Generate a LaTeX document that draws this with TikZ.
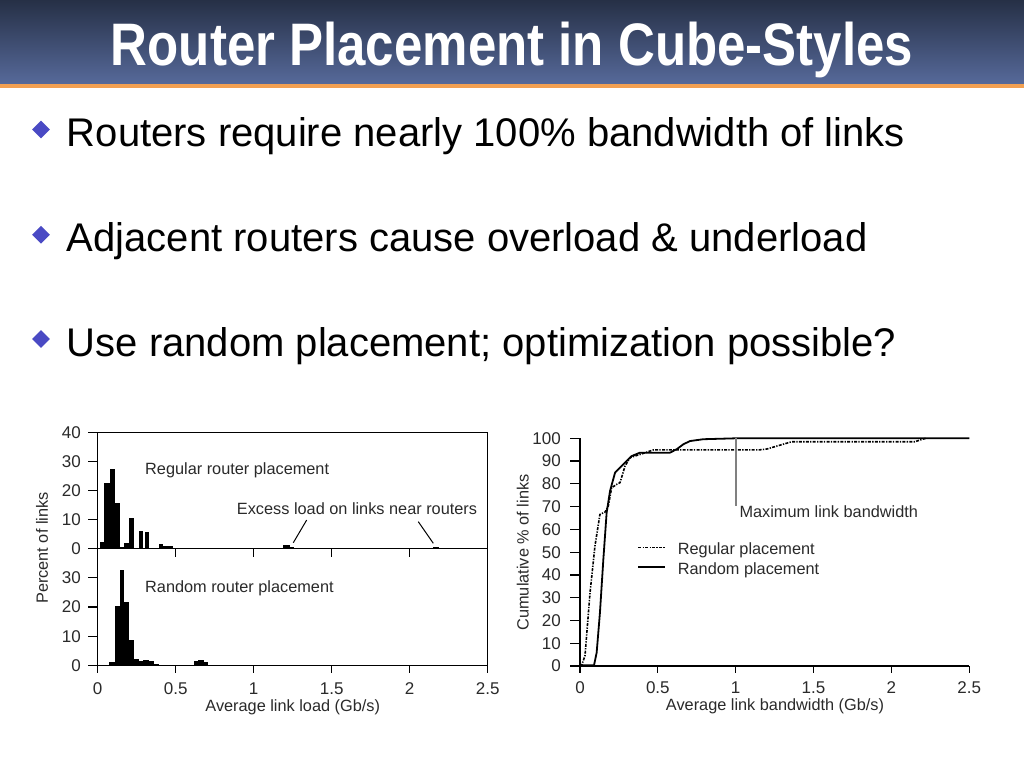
\documentclass[tikz,border=0pt]{standalone}
\usepackage{fontspec}
\setmainfont{Liberation Sans}
\usetikzlibrary{shapes.geometric}
\definecolor{titletop}{HTML}{263046}
\definecolor{titlebot}{HTML}{56699A}
\definecolor{orangeline}{HTML}{F2A052}
\definecolor{bulletblue}{HTML}{4A4AC4}
\definecolor{charttext}{HTML}{2A2A2A}
\definecolor{maxgray}{HTML}{808080}
\begin{document}
\begin{tikzpicture}[x=1pt,y=-1pt,
 bullettext/.style={anchor=base west, inner sep=0, font=\fontsize{40}{48}\selectfont},
 bulletmark/.style={diamond, fill=bulletblue, minimum width=18pt, minimum height=18pt, inner sep=0},
 ticklab/.style={font=\fontsize{17}{20}\selectfont, text=charttext, inner sep=0},
 chartlab/.style={font=\fontsize{16.3}{19}\selectfont, text=charttext, inner sep=0},
 axisline/.style={line width=1.2pt, black},
 bar/.style={fill=black, draw=none},
 regline/.style={line width=1.6pt, dash pattern=on 3pt off 1.3pt on 1.3pt off 1.3pt, line join=round},
 randline/.style={line width=1.8pt, line join=round},
]
\useasboundingbox (0,0) rectangle (1024,768);
\fill[white] (0,0) rectangle (1024,768);
% title bar
\shade[top color=titletop, bottom color=titlebot] (0,0) rectangle (1024,83.5);
\fill[orangeline] (0,83.5) rectangle (1024,87.5);
\node[anchor=base, inner sep=0, text=white, font=\fontsize{60}{70}\selectfont\bfseries] (title) at (512,65) {\scalebox{0.85}[1]{Router Placement in Cube-Styles}};
% bullets
\node[bulletmark] (d1) at (41,129.5) {};
\node[bulletmark] (d2) at (41,234.7) {};
\node[bulletmark] (d3) at (41,339) {};
\node[bullettext] (b1) at (66.7,146.7) {Routers require nearly 100\% bandwidth of links};
\node[bullettext] (b2) at (66.7,251.7) {Adjacent routers cause overload \& underload};
\node[bullettext] (b3) at (66.7,356.7) {Use random placement; optimization possible?};

% ================= left chart =================
% bars upper
\begin{scope}[shift={(97.7,548.5)}, xscale=156, yscale=-2.9]
\foreach \a/\b/\h in {0.015/0.04/2.3, 0.04/0.08/22.7, 0.08/0.11/27.5, 0.11/0.14/15.8, 0.14/0.17/0.5, 0.17/0.2/2, 0.2/0.23/10.6, 0.265/0.29/6.1, 0.3/0.33/5.8, 0.39/0.42/1.6, 0.42/0.48/0.9, 1.19/1.23/1.1, 1.23/1.26/0.4, 2.15/2.19/0.4}
  \fill[bar] (\a,0) rectangle (\b,\h);
\end{scope}
% bars lower
\begin{scope}[shift={(97.7,665.7)}, xscale=156, yscale=-2.94]
\foreach \a/\b/\h in {0.075/0.11/1.1, 0.11/0.14/20.4, 0.14/0.17/32.5, 0.17/0.2/21.5, 0.2/0.23/8.7, 0.23/0.265/2.3, 0.265/0.29/1.7, 0.29/0.33/2, 0.33/0.36/1.5, 0.36/0.39/0.5, 0.62/0.645/1.7, 0.645/0.68/2, 0.68/0.71/1.2}
  \fill[bar] (\a,0) rectangle (\b,\h);
\end{scope}
% frame
\draw[axisline] (97.7,432.5) rectangle (487.7,665.7);
\draw[axisline] (97.7,548.5) -- (487.7,548.5);
% y ticks upper
\foreach \v [count=\i] in {0,10,20,30,40} {
  \pgfmathsetmacro\yy{548.5-2.9*\v}
  \draw[axisline] (88,\yy) -- (97.7,\yy);
  \node[ticklab, anchor=east] (lyu\i) at (81,\yy) {\v};
}
% y ticks lower
\foreach \v [count=\i] in {0,10,20,30} {
  \pgfmathsetmacro\yy{665.7-2.94*\v}
  \draw[axisline] (88,\yy) -- (97.7,\yy);
  \node[ticklab, anchor=east] (lyl\i) at (81,\yy) {\v};
}
% x ticks
\foreach \v [count=\i] in {0,0.5,1,1.5,2,2.5} {
  \pgfmathsetmacro\xx{97.7+156*\v}
  \draw[axisline] (\xx,665.7) -- (\xx,673);
  \node[ticklab] (lx\i) at (\xx,689) {\v};
}
\foreach \v in {0.5,1,1.5,2} {
  \pgfmathsetmacro\xx{97.7+156*\v}
  \draw[axisline] (\xx,548.5) -- (\xx,557);
}
\node[chartlab] (lxlab) at (292.7,707) {Average link load (Gb/s)};
\node[chartlab, rotate=90] (lylab) at (42,548) {Percent of links};
\node[chartlab, anchor=west] (regtxt) at (145,470.7) {Regular router placement};
\node[chartlab, anchor=west] (randtxt) at (145,588.3) {Random router placement};
\node[chartlab] (excess) at (357,509) {Excess load on links near routers};
\coordinate (ex1) at (293.3,542.7);
\coordinate (ex2) at (433.3,543.3);
\draw[line width=1pt, black] (306.7,520) -- (ex1);
\draw[line width=1pt, black] (418.3,521.7) -- (ex2);

% ================= right chart =================
\begin{scope}[shift={(580,666)}, xscale=155.7, yscale=-2.277]
\draw[randline] (0,0.3) -- (0.09,0.3) -- (0.107,5.9) -- (0.128,23.4) -- (0.15,46.9) -- (0.171,67.3) -- (0.193,76.9) -- (0.225,84.9) -- (0.278,88.6) -- (0.332,92.2) -- (0.385,93.7) -- (0.578,93.7) -- (0.621,95.2) -- (0.664,97.4) -- (0.707,98.8) -- (0.792,99.6) -- (1,100) -- (2.5,100);
\draw[regline] (0,0.3) -- (0.01,0.3) -- (0.032,4.4) -- (0.064,31.9) -- (0.096,52.7) -- (0.128,66.6) -- (0.161,67.6) -- (0.182,70.3) -- (0.203,78.3) -- (0.236,79.8) -- (0.257,80.5) -- (0.289,87.8) -- (0.321,91.5) -- (0.407,93.4) -- (0.471,94.9) -- (1.15,94.9) -- (1.2,95.3) -- (1.36,98.5) -- (2.15,98.5) -- (2.22,100);
\end{scope}
\draw[axisline] (580,438.3) -- (580,666) -- (969.3,666);
\foreach \v [count=\i] in {0,10,20,30,40,50,60,70,80,90,100} {
  \pgfmathsetmacro\yy{666-2.277*\v}
  \draw[axisline] (570,\yy) -- (580,\yy);
  \node[ticklab, anchor=east] (ry\i) at (561,\yy) {\v};
}
\foreach \v [count=\i] in {0,0.5,1,1.5,2,2.5} {
  \pgfmathsetmacro\xx{580+155.7*\v}
  \draw[axisline] (\xx,666) -- (\xx,673);
  \node[ticklab] (rx\i) at (\xx,688) {\v};
}
\node[chartlab] (rxlab) at (775,706) {Average link bandwidth (Gb/s)};
\node[chartlab, rotate=90] (rylab) at (522.7,552.5) {Cumulative \% of links};
\coordinate (maxtop) at (736,438.3);
\node[chartlab, anchor=west] (maxtxt) at (739.3,511.7) {Maximum link bandwidth};
\draw[line width=1.1pt, maxgray] (maxtop) -- (736,506);
% legend
\coordinate (lg1a) at (638.3,547.3);
\coordinate (lg1b) at (665,547.3);
\coordinate (lg2a) at (638.3,566.7);
\coordinate (lg2b) at (665,566.7);
\draw[regline] (lg1a) -- (lg1b);
\draw[randline] (lg2a) -- (lg2b);
\node[chartlab, anchor=west] (lgt1) at (677.7,550.7) {Regular placement};
\node[chartlab, anchor=west] (lgt2) at (677.7,570) {Random placement};
\end{tikzpicture}
\end{document}
